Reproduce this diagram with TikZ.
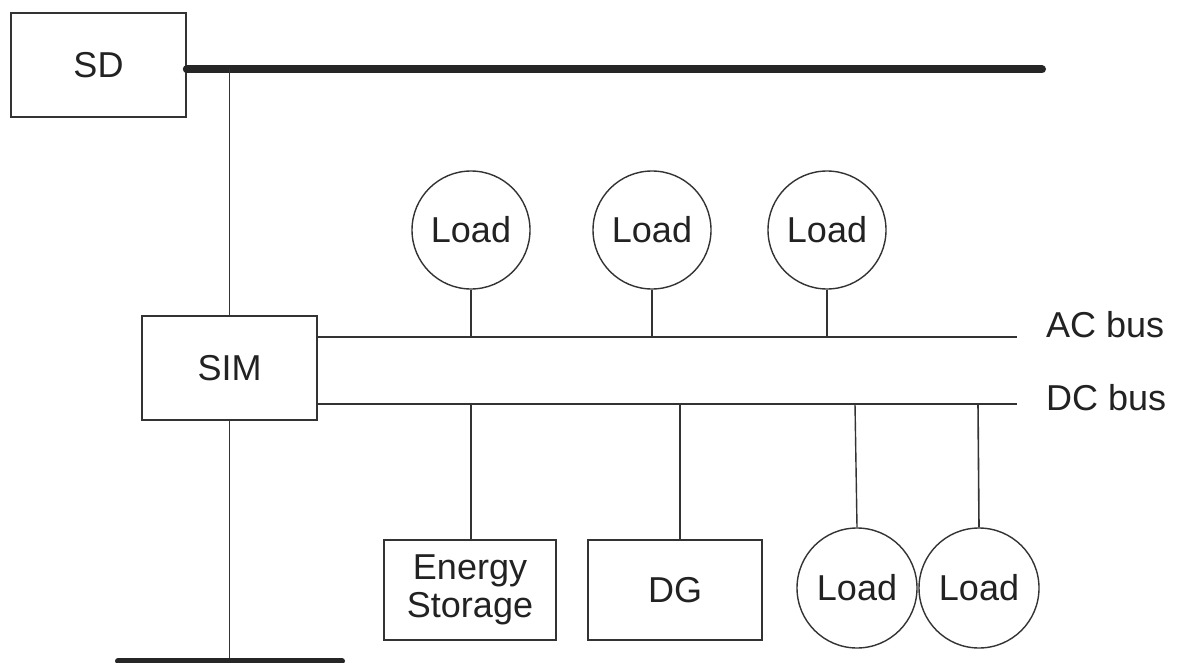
\documentclass[tikz,border=0pt]{standalone}
\usepackage{fontspec}
\setmainfont{Liberation Sans}
\definecolor{ln}{HTML}{333333}
\definecolor{tx}{HTML}{222222}
\tikzset{
  box/.style={draw=ln, line width=1.6pt, rectangle, inner sep=0pt, text=tx, font=\fontsize{36}{38}\selectfont, align=center},
  loadc/.style={draw=ln, line width=1.4pt, circle, inner sep=0pt, minimum size=118pt, text=tx, font=\fontsize{36}{38}\selectfont},
  wire/.style={draw=ln, line width=1.6pt},
  thickbus/.style={draw=black!85, line width=8pt, line cap=round},
  lbl/.style={text=tx, font=\fontsize{36}{38}\selectfont, anchor=west, inner sep=0pt}
}
\begin{document}
\begin{tikzpicture}[x=1pt,y=-1pt]
\useasboundingbox (0,0) rectangle (1180,663);
\fill[white] (0,0) rectangle (1180,663);
% boxes
\node[box, minimum width=175pt, minimum height=104pt] (sd) at (98.5,65) {SD};
\node[box, minimum width=175pt, minimum height=104pt] (sim) at (229.5,368) {SIM};
\node[box, minimum width=172pt, minimum height=100pt] (es) at (470,590) {Energy\\Storage};
\node[box, minimum width=174pt, minimum height=100pt] (dg) at (675,590) {DG};
% loads
\node[loadc] (l1) at (471,230) {Load};
\node[loadc] (l2) at (652,230) {Load};
\node[loadc] (l3) at (827,230) {Load};
\node[loadc, minimum height=120pt] (l4) at (857,588) {Load};
\node[loadc, minimum height=120pt] (l5) at (979,588) {Load};
% top bus
\coordinate (busend) at (1042,69.5);
\draw[thickbus] (sd.east |- busend) -- (busend);
\coordinate (sdtap) at (229.5,69.5);
\draw[wire] (sdtap) -- (sim.north);
% bottom bus
\coordinate (botl) at (118,661);
\coordinate (botr) at (342,661);
\draw[wire] (sim.south) -- (sim.south |- botl);
\draw[thickbus, line width=6pt] (botl) -- (botr);
% AC / DC bus
\coordinate (acend) at (1017,337);
\coordinate (dcend) at (1017,404);
\draw[wire] (sim.east |- acend) -- (acend);
\draw[wire] (sim.east |- dcend) -- (dcend);
\node[lbl] (aclbl) at (1046,325) {AC bus};
\node[lbl] (dclbl) at (1046,398) {DC bus};
% AC taps
\draw[wire, line width=1.4pt] (l1.south) -- (l1.south |- acend);
\draw[wire, line width=1.4pt] (l2.south) -- (l2.south |- acend);
\draw[wire, line width=1.4pt] (l3.south) -- (l3.south |- acend);
% DC taps
\coordinate (t1) at (471,404);
\coordinate (t2) at (680,404);
\coordinate (t3) at (855,404);
\coordinate (t4) at (978,404);
\draw[wire] (t1) -- (t1 |- es.north);
\draw[wire, line width=1.4pt] (t2) -- (t2 |- dg.north);
\draw[wire, line width=1.4pt] (t3) -- (l4.north);
\draw[wire] (t4) -- (l5.north);
\end{tikzpicture}
\end{document}
